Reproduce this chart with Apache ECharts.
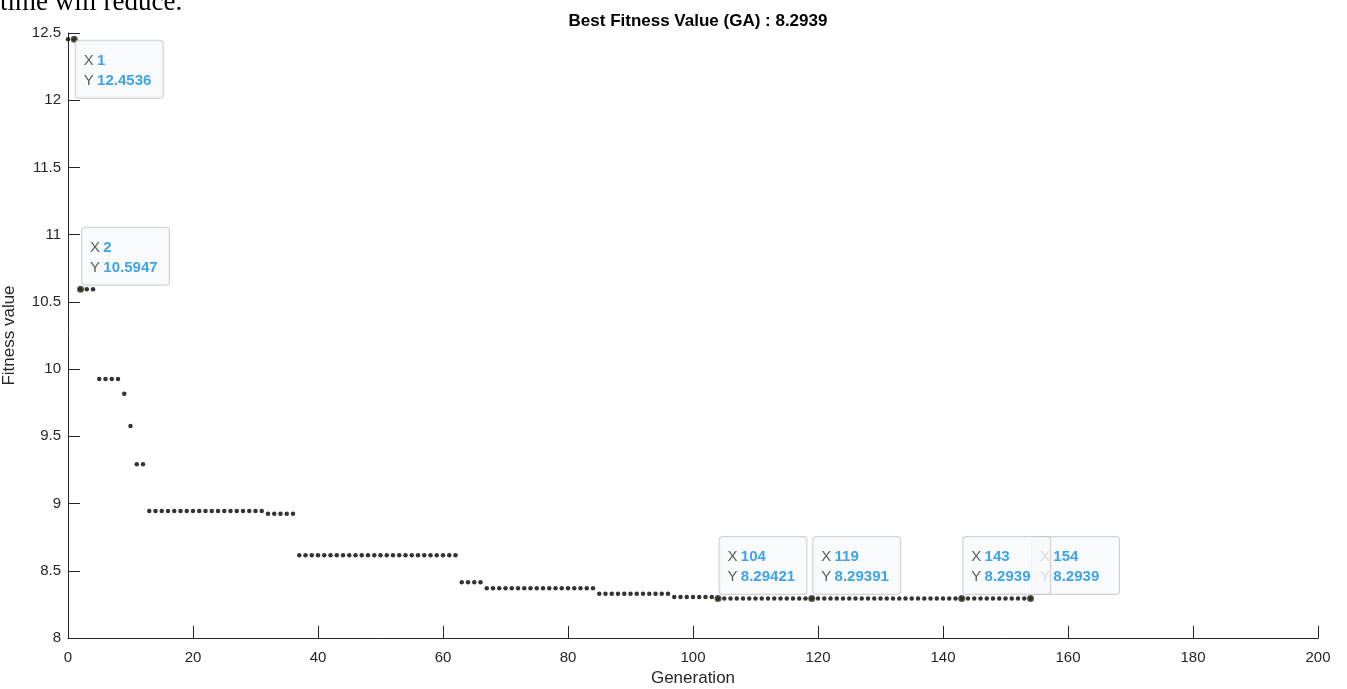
<!DOCTYPE html>
<html>
<head>
<meta charset="utf-8">
<script src="https://cdn.jsdelivr.net/npm/echarts@6/dist/echarts.min.js"></script>
<style>
  html, body { margin: 0; padding: 0; background: #fff; }
  #main { width: 1347px; height: 689px; }
</style>
</head>
<body>
<div id="main"></div>
<script>
// best fitness per generation (generation = index, 0..154)
var fitness = [
    12.4536, 12.4536,
    10.5947, 10.5947, 10.5947,
    9.926, 9.926, 9.926, 9.926,
    9.816,
    9.577,
    9.293, 9.293,
    8.945, 8.945, 8.945, 8.945, 8.945, 8.945, 8.945, 8.945, 8.945, 8.945,
    8.945, 8.945, 8.945, 8.945, 8.945, 8.945, 8.945, 8.945, 8.945,
    8.925, 8.925, 8.925, 8.925, 8.925,
    8.615, 8.615, 8.615, 8.615, 8.615, 8.615, 8.615, 8.615, 8.615, 8.615,
    8.615, 8.615, 8.615, 8.615, 8.615, 8.615, 8.615, 8.615, 8.615, 8.615,
    8.615, 8.615, 8.615, 8.615, 8.615, 8.615,
    8.415, 8.415, 8.415, 8.415,
    8.37, 8.37, 8.37, 8.37, 8.37, 8.37, 8.37, 8.37, 8.37,
    8.37, 8.37, 8.37, 8.37, 8.37, 8.37, 8.37, 8.37, 8.37,
    8.33, 8.33, 8.33, 8.33, 8.33, 8.33, 8.33, 8.33, 8.33, 8.33, 8.33, 8.33,
    8.305, 8.305, 8.305, 8.305, 8.305, 8.305, 8.305,
    8.29421, 8.29421, 8.29421, 8.29421, 8.29421, 8.29421, 8.29421, 8.29421,
    8.29421, 8.29421, 8.29421, 8.29421, 8.29421, 8.29421, 8.29421,
    8.29391, 8.29391, 8.29391, 8.29391, 8.29391, 8.29391, 8.29391, 8.29391,
    8.29391, 8.29391, 8.29391, 8.29391, 8.29391, 8.29391, 8.29391, 8.29391,
    8.29391, 8.29391, 8.29391, 8.29391, 8.29391, 8.29391, 8.29391, 8.29391,
    8.2939, 8.2939, 8.2939, 8.2939, 8.2939, 8.2939, 8.2939, 8.2939, 8.2939,
    8.2939, 8.2939, 8.2939
];

// data tips (154 before 143 so the 143 box sits on top)
var tipGen   = [1, 2, 104, 119, 154, 143];
var tipValue = [12.4536, 10.5947, 8.29421, 8.29391, 8.2939, 8.2939];

var xTicks = [0, 20, 40, 60, 80, 100, 120, 140, 160, 180, 200];
var yTicks = [8, 8.5, 9, 9.5, 10, 10.5, 11, 11.5, 12, 12.5];

var points = [];
for (var i = 0; i < fitness.length; i++) {
    points.push([i, fitness[i]]);
}

var tips = [];
for (var j = 0; j < tipGen.length; j++) {
    // tip near the top edge goes below the point
    var below = tipValue[j] > 12;
    tips.push({
        value: [tipGen[j], tipValue[j]],
        label: { position: below ? [5, 5] : [5, -58] }
    });
}

var axisColor = '#262626';

var option = {
    animation: false,
    backgroundColor: '#ffffff',
    textStyle: { fontFamily: 'Arial, "Liberation Sans", sans-serif' },
    title: [{
        text: 'Best Fitness Value (GA) : 8.2939',
        left: 693,
        textAlign: 'center',
        top: 8,
        textStyle: { fontSize: 17, fontWeight: 'bold', color: '#000' }
    }],
    graphic: [{
        type: 'text',
        left: 0,
        top: -11,
        style: {
            text: 'time will reduce.',
            font: '27px "Liberation Serif", "DejaVu Serif", serif',
            fill: '#000'
        }
    }],
    grid: { left: 68, right: 29, top: 33, bottom: 51, outerBoundsMode: 'none', containLabel: false },
    xAxis: {
        type: 'value',
        min: 0,
        max: 200,
        interval: 20,
        name: 'Generation',
        nameLocation: 'middle',
        nameGap: 32,
        nameTextStyle: { fontSize: 17, color: axisColor },
        axisLine: { show: true, lineStyle: { color: axisColor, width: 1 } },
        axisTick: { show: true, inside: true, length: 12, lineStyle: { color: axisColor } },
        axisLabel: {
            fontSize: 15, color: axisColor, margin: 12,
            formatter: function (v) { return xTicks.indexOf(v) >= 0 ? String(v) : ''; }
        },
        splitLine: { show: false }
    },
    yAxis: {
        type: 'value',
        min: 8,
        max: 12.5,
        interval: 0.5,
        name: 'Fitness value',
        nameLocation: 'middle',
        nameGap: 50,
        nameTextStyle: { fontSize: 17, color: axisColor },
        axisLine: { show: true, lineStyle: { color: axisColor, width: 1 } },
        axisTick: { show: true, inside: true, length: 12, lineStyle: { color: axisColor } },
        axisLabel: {
            fontSize: 15, color: axisColor, margin: 7,
            formatter: function (v) { return yTicks.indexOf(v) >= 0 ? String(v) : ''; }
        },
        splitLine: { show: false }
    },
    series: [{
        type: 'scatter',
        data: points,
        symbol: 'circle',
        symbolSize: 4.5,
        itemStyle: { color: '#000' },
        z: 2
    }, {
        type: 'scatter',
        data: tips,
        symbol: 'circle',
        symbolSize: 7,
        itemStyle: { color: '#2a3120' },
        z: 3,
        label: {
            show: true,
            align: 'left',
            verticalAlign: 'top',
            backgroundColor: '#f8f9fa',
            borderColor: '#c4c6c8',
            borderWidth: 1,
            borderRadius: 3,
            padding: [10, 10, 7, 8],
            width: 69,
            lineHeight: 20,
            formatter: function (p) {
                return '{k|X} {v|' + p.value[0] + '}\n{k|Y} {v|' + p.value[1] + '}';
            },
            rich: {
                k: { fontSize: 15, color: '#333333', lineHeight: 20 },
                v: { fontSize: 15, color: '#0f8fe0', fontWeight: 'bold', lineHeight: 20 }
            }
        }
    }]
};

var myChart = echarts.init(document.getElementById('main'));
myChart.setOption(option);
</script>
</body>
</html>
